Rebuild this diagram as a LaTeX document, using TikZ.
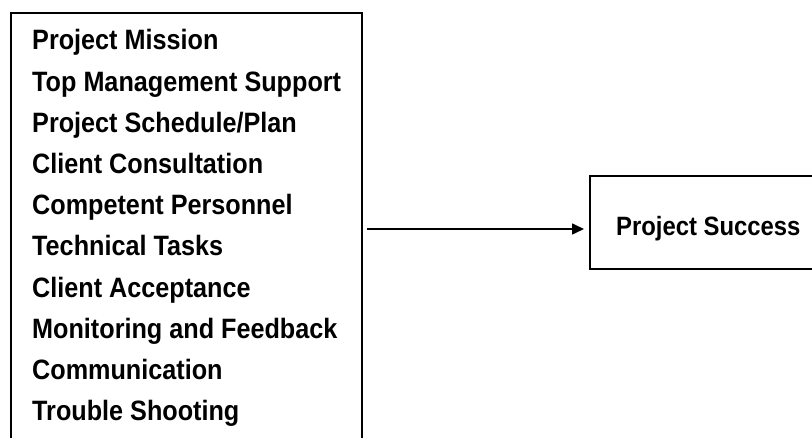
\documentclass[tikz,border=0pt]{standalone}
\usepackage{fontspec}
\setmainfont{Liberation Sans}[FakeStretch=0.90]
\usetikzlibrary{arrows.meta}
\tikzset{
  x=1pt, y=1pt,
  framebox/.style={draw=black, line width=1.6pt, inner sep=0pt},
  factor/.style={anchor=base west, inner sep=0pt, font=\fontsize{28}{34}\selectfont\bfseries},
  outcome/.style={anchor=base west, inner sep=0pt, font=\fontsize{26.5}{32}\selectfont\bfseries},
  arrowline/.style={draw=black, line width=1.6pt, -{Triangle[length=12pt, width=11pt]}}
}
\begin{document}
\begin{tikzpicture}
\useasboundingbox (0,0) rectangle (812,-438);
\clip (0,0) rectangle (812,-438);
\fill[white] (0,0) rectangle (812,-438);
\node[framebox, anchor=north west, minimum width=351pt, minimum height=460pt] (factors) at (10,-12) {};
\node[factor] (f1) at (32,-50) {Project Mission};
\node[factor] (f2) at (32,-91.2) {Top Management Support};
\node[factor] (f3) at (32,-132.4) {Project Schedule/Plan};
\node[factor] (f4) at (32,-173.6) {Client Consultation};
\node[factor] (f5) at (32,-214.8) {Competent Personnel};
\node[factor] (f6) at (32,-256) {Technical Tasks};
\node[factor] (f7) at (32,-297.2) {Client Acceptance};
\node[factor] (f8) at (32,-338.4) {Monitoring and Feedback};
\node[factor] (f9) at (32,-379.6) {Communication};
\node[factor] (f10) at (32,-420.8) {Trouble Shooting};
\node[framebox, anchor=north west, minimum width=250pt, minimum height=93pt] (success) at (589,-175) {};
\node[outcome] (successtext) at (616,-236) {Project Success};
\coordinate (arrowy) at (0,-229);
\draw[arrowline] ([xshift=4pt]factors.east |- arrowy) -- ([xshift=-5pt]success.west |- arrowy);
\end{tikzpicture}
\end{document}
